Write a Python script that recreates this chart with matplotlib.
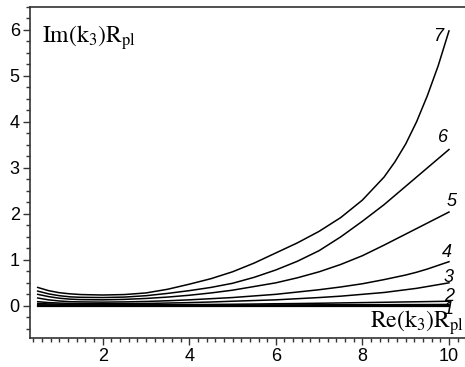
import matplotlib
matplotlib.use("Agg")
import matplotlib.pyplot as plt
from matplotlib.ticker import MultipleLocator

plt.rcParams['font.family'] = ['Liberation Sans', 'DejaVu Sans']
plt.rcParams['mathtext.fontset'] = 'stix'

# Re(k3)Rpl sample points
x = [0.5, 0.75, 1, 1.25, 1.5, 2, 2.5, 3, 3.5, 4, 4.5, 5, 5.5, 6, 6.5, 7, 7.5, 8, 8.5,
     8.75, 9, 9.25, 9.5, 9.75, 10]

curve_1 = [0.022, 0.02, 0.018, 0.016, 0.015, 0.014, 0.014, 0.015, 0.015, 0.016, 0.017, 0.018,
           0.019, 0.02, 0.021, 0.022, 0.023, 0.024, 0.025, 0.026, 0.027, 0.027, 0.028, 0.029, 0.03]
curve_2 = [0.05, 0.042, 0.036, 0.031, 0.027, 0.022, 0.022, 0.023, 0.025, 0.027, 0.03, 0.034,
           0.039, 0.045, 0.05, 0.056, 0.063, 0.07, 0.077, 0.081, 0.085, 0.088, 0.092, 0.096, 0.10]
curve_3 = [0.09, 0.07, 0.06, 0.052, 0.048, 0.045, 0.047, 0.052, 0.06, 0.07, 0.083, 0.10,
           0.115, 0.13, 0.155, 0.18, 0.21, 0.25, 0.29, 0.32, 0.35, 0.38, 0.42, 0.46, 0.50]
curve_4 = [0.17, 0.13, 0.105, 0.09, 0.085, 0.08, 0.085, 0.095, 0.11, 0.13, 0.155, 0.18,
           0.215, 0.25, 0.30, 0.35, 0.41, 0.48, 0.57, 0.62, 0.67, 0.73, 0.80, 0.88, 0.96]
curve_5 = [0.25, 0.20, 0.165, 0.145, 0.135, 0.13, 0.14, 0.16, 0.19, 0.23, 0.28, 0.34,
           0.42, 0.50, 0.61, 0.74, 0.90, 1.09, 1.32, 1.44, 1.56, 1.68, 1.80, 1.92, 2.04]
curve_6 = [0.32, 0.26, 0.22, 0.195, 0.185, 0.18, 0.19, 0.22, 0.27, 0.33, 0.40, 0.49,
           0.62, 0.78, 0.97, 1.20, 1.50, 1.84, 2.20, 2.40, 2.60, 2.80, 3.00, 3.20, 3.40]
curve_7 = [0.40, 0.33, 0.285, 0.26, 0.245, 0.235, 0.245, 0.28, 0.36, 0.47, 0.59, 0.74,
           0.93, 1.15, 1.37, 1.62, 1.92, 2.30, 2.80, 3.13, 3.52, 4.00, 4.57, 5.22, 5.98]

curves = [curve_1, curve_2, curve_3, curve_4, curve_5, curve_6, curve_7]
labels = ['1', '2', '3', '4', '5', '6', '7']
label_x = [10.0, 10.0, 9.98, 9.95, 10.07, 9.86, 9.74]
label_y = [-0.09, 0.20, 0.61, 1.15, 2.26, 3.67, 5.85]

fig = plt.figure(figsize=(4.65, 3.67), dpi=100)
ax = fig.add_axes([29.5 / 465, 29 / 367, 435.5 / 465, 331 / 367])

ax.plot([x[0], x[-1]], [0, 0], color='black', lw=1.6)
for c in curves:
    ax.plot(x, c, color='black', lw=1.1)

for lab, lx, ly in zip(labels, label_x, label_y):
    ax.text(lx, ly, lab, fontsize=13, style='italic', ha='center', va='center')

ax.text(0.029, 0.891, r'$\mathrm{Im(k_3)R_{pl}}$', transform=ax.transAxes,
        fontsize=17, va='baseline', ha='left')
ax.text(0.782, 0.030, r'$\mathrm{Re(k_3)R_{pl}}$', transform=ax.transAxes,
        fontsize=17, va='baseline', ha='left')

ax.set_xlim(0.31, 10.37)
ax.set_ylim(-0.70, 6.5)
ax.xaxis.set_major_locator(MultipleLocator(2))
ax.xaxis.set_minor_locator(MultipleLocator(0.2))
ax.yaxis.set_major_locator(MultipleLocator(1))
ax.yaxis.set_minor_locator(MultipleLocator(0.25))
ax.tick_params(which='major', direction='out', length=5, width=1, labelsize=13, color='#333333', pad=2)
ax.tick_params(which='minor', direction='out', length=3, width=1, color='#333333')
ax.spines['right'].set_visible(False)
for s in ['left', 'bottom', 'top']:
    ax.spines[s].set_color('#333333')
    ax.spines[s].set_linewidth(1.2)

fig.savefig('out.png', dpi=100)
